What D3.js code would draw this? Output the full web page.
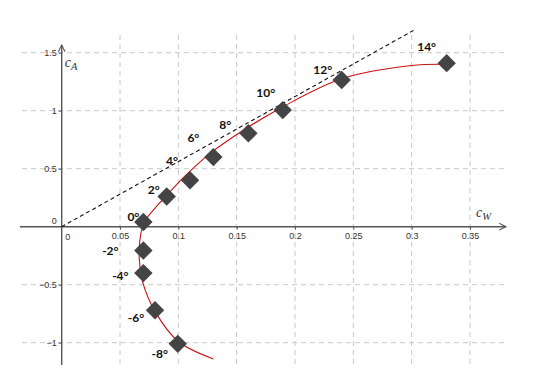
<!DOCTYPE html>
<html>
<head>
<meta charset="utf-8">
<script src="https://cdn.jsdelivr.net/npm/d3@7"></script>
<style>
  body { margin: 0; background: #fff; }
  svg { display: block; }
</style>
</head>
<body>
<div id="chart"></div>
<script>
// angle of attack for each measured point, with drag (cW) and lift (cA)
var angles = [-8, -6, -4, -2, 0, 2, 4, 6, 8, 10, 12, 14];
var cW = [0.0995, 0.080, 0.070, 0.070, 0.070, 0.090, 0.110, 0.130, 0.160, 0.1895, 0.240, 0.330];
var cA = [-1.01, -0.72, -0.40, -0.205, 0.04, 0.26, 0.40, 0.60, 0.805, 1.005, 1.265, 1.41];

// fitted polar (red curve)
var curveCW = [0.130, 0.100, 0.080, 0.0695, 0.0665, 0.068, 0.072, 0.080, 0.090, 0.106, 0.127, 0.157, 0.189, 0.240, 0.300, 0.330];
var curveCA = [-1.14, -0.99, -0.73, -0.48, -0.28, -0.05, 0.06, 0.16, 0.27, 0.44, 0.63, 0.84, 1.03, 1.275, 1.39, 1.40];

// dashed tangent through the origin
var tangentCW = [0, 0.303];
var tangentCA = [0, 1.70];

var xTicks = [0, 0.05, 0.1, 0.15, 0.2, 0.25, 0.3, 0.35];
var yTicks = [-1, -0.5, 0, 0.5, 1, 1.5];

// label nudges in px, relative to each marker
var labelDx = [-18, -19, -23, -33, -10, -13, -18, -20, -23, -17, -19, -20];
var labelDy = [10, 7, 2, 0, -6, -7, -20, -20, -9, -18, -10, -17];

var width = 538, height = 386;

var svg = d3.select("#chart").append("svg")
    .attr("width", width)
    .attr("height", height);

var x = d3.scaleLinear().domain([0, 0.35]).range([61.7, 470]);
var y = d3.scaleLinear().domain([0, 1.5]).range([226.7, 52.7]);

var gridColor = "#c8c8c8", axisColor = "#555";
var tickFont = "9px 'Liberation Sans', Arial, sans-serif";

// grid
svg.append("g").selectAll("line")
    .data(xTicks.filter(function(d) { return d !== 0; }))
    .enter().append("line")
    .attr("x1", function(d) { return x(d); })
    .attr("x2", function(d) { return x(d); })
    .attr("y1", 35).attr("y2", 365)
    .attr("stroke", gridColor)
    .attr("stroke-dasharray", "5,4");

svg.append("g").selectAll("line")
    .data(yTicks.filter(function(d) { return d !== 0; }))
    .enter().append("line")
    .attr("x1", 22).attr("x2", 507)
    .attr("y1", function(d) { return y(d); })
    .attr("y2", function(d) { return y(d); })
    .attr("stroke", gridColor)
    .attr("stroke-dasharray", "5,4");

// axes
var defs = svg.append("defs");
defs.append("marker")
    .attr("id", "arrow")
    .attr("viewBox", "0 0 10 10")
    .attr("refX", 9).attr("refY", 5)
    .attr("markerWidth", 6).attr("markerHeight", 6)
    .attr("orient", "auto")
    .append("path")
    .attr("d", "M1,1 L9,5 L1,9")
    .attr("fill", "none")
    .attr("stroke", axisColor)
    .attr("stroke-width", 1.3);

svg.append("line")
    .attr("x1", 20).attr("x2", 506)
    .attr("y1", y(0)).attr("y2", y(0))
    .attr("stroke", axisColor).attr("stroke-width", 1.4)
    .attr("marker-end", "url(#arrow)");

svg.append("line")
    .attr("x1", x(0)).attr("x2", x(0))
    .attr("y1", 365).attr("y2", 45)
    .attr("stroke", axisColor).attr("stroke-width", 1.4)
    .attr("marker-end", "url(#arrow)");

// x ticks + labels
var xAxis = d3.axisBottom(x)
    .tickValues(xTicks.filter(function(d) { return d !== 0; }))
    .tickSize(3)
    .tickFormat(d3.format("~g"));
var gx = svg.append("g")
    .attr("transform", "translate(0," + y(0) + ")")
    .call(xAxis);
gx.select(".domain").remove();
gx.selectAll("line").attr("stroke", axisColor);
gx.selectAll("text")
    .attr("fill", "#333")
    .attr("y", 6)
    .style("font", tickFont);

svg.append("text")
    .attr("x", x(0) + 6).attr("y", y(0) + 13)
    .attr("text-anchor", "middle")
    .attr("fill", "#333")
    .style("font", tickFont)
    .text("0");

// y ticks + labels
var yAxis = d3.axisLeft(y)
    .tickValues(yTicks.filter(function(d) { return d !== 0; }))
    .tickSize(3)
    .tickFormat(d3.format("~g"));
var gy = svg.append("g")
    .attr("transform", "translate(" + x(0) + ",0)")
    .call(yAxis);
gy.select(".domain").remove();
gy.selectAll("line").attr("stroke", axisColor);
gy.selectAll("text")
    .attr("fill", "#333")
    .attr("x", -5)
    .style("font", tickFont);

svg.append("text")
    .attr("x", x(0) - 5).attr("y", y(0) - 3)
    .attr("text-anchor", "end")
    .attr("fill", "#333")
    .style("font", tickFont)
    .text("0");

// axis titles
var yTitle = svg.append("text")
    .attr("x", x(0) + 3).attr("y", 67)
    .style("font", "italic 14px 'Liberation Serif', 'DejaVu Serif', serif")
    .attr("fill", "#333");
yTitle.append("tspan").text("c");
yTitle.append("tspan").attr("dy", 3).style("font-size", "10.5px").text("A");

var xTitle = svg.append("text")
    .attr("x", 476).attr("y", 217)
    .style("font", "italic 14px 'Liberation Serif', 'DejaVu Serif', serif")
    .attr("fill", "#333");
xTitle.append("tspan").text("c");
xTitle.append("tspan").attr("dy", 3).style("font-size", "10.5px").text("W");

// dashed tangent
svg.append("path")
    .datum(d3.zip(tangentCW, tangentCA))
    .attr("d", d3.line().x(function(d) { return x(d[0]); }).y(function(d) { return y(d[1]); }))
    .attr("fill", "none")
    .attr("stroke", "#111")
    .attr("stroke-width", 1.1)
    .attr("stroke-dasharray", "4,3");

// polar curve
svg.append("path")
    .datum(d3.zip(curveCW, curveCA))
    .attr("d", d3.line()
        .curve(d3.curveCatmullRom.alpha(0.5))
        .x(function(d) { return x(d[0]); })
        .y(function(d) { return y(d[1]); }))
    .attr("fill", "none")
    .attr("stroke", "#cc1111")
    .attr("stroke-width", 1.1);

// markers
var pts = d3.range(angles.length).map(function(i) {
    return { a: angles[i], cw: cW[i], ca: cA[i], dx: labelDx[i], dy: labelDy[i] };
});

svg.append("g").selectAll("path")
    .data(pts)
    .enter().append("path")
    .attr("d", d3.symbol().type(d3.symbolSquare).size(170))
    .attr("transform", function(d) {
        return "translate(" + x(d.cw) + "," + y(d.ca) + ") rotate(45)";
    })
    .attr("fill", "#444");

svg.append("g").selectAll("text")
    .data(pts)
    .enter().append("text")
    .attr("x", function(d) { return x(d.cw) + d.dx; })
    .attr("y", function(d) { return y(d.ca) + d.dy; })
    .attr("text-anchor", "middle")
    .attr("dominant-baseline", "central")
    .style("font", "bold 12px Lato, 'Open Sans', sans-serif")
    .attr("fill", "#111")
    .text(function(d) { return d.a + "°"; });
</script>
</body>
</html>
